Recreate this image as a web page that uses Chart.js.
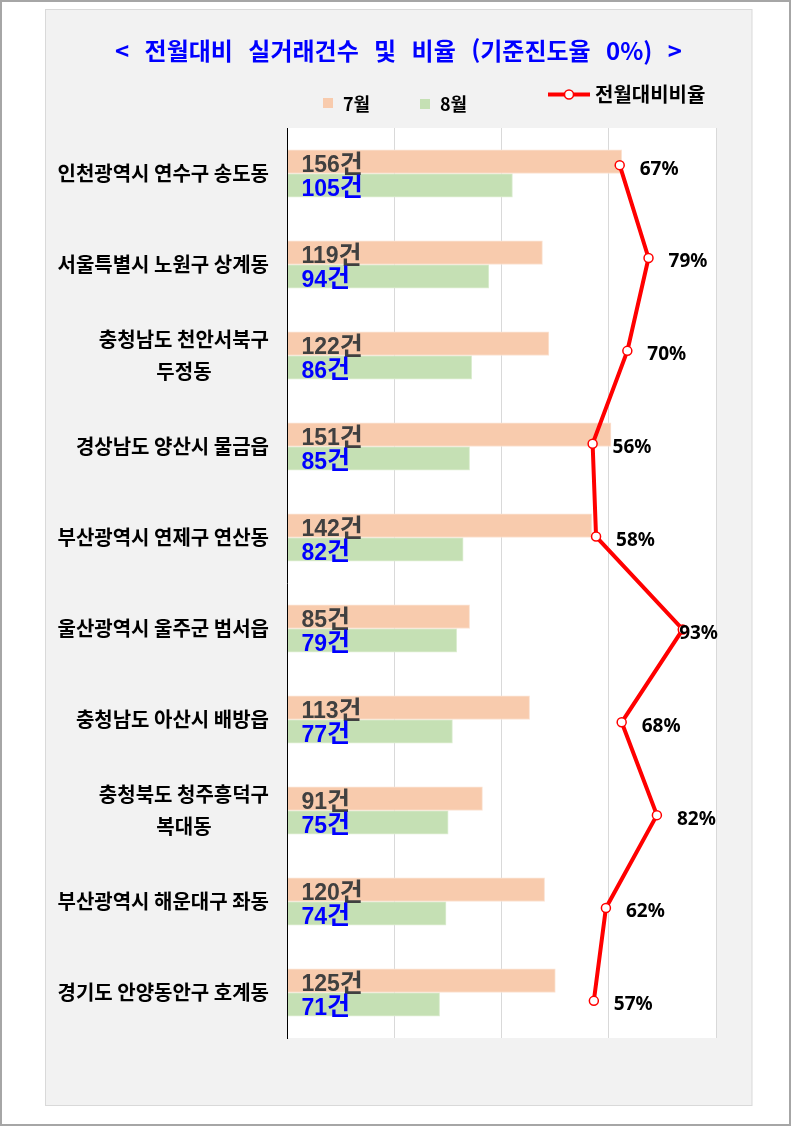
<!DOCTYPE html>
<html lang="ko">
<head>
<meta charset="utf-8">
<title>전월대비 실거래건수 및 비율</title>
<script src="https://cdn.jsdelivr.net/npm/chart.js@4.4.1/dist/chart.umd.min.js"></script>
<style>
  html, body { margin: 0; padding: 0; background: #fff; }
  canvas { display: block; }
</style>
</head>
<body>
<canvas id="chart" width="793" height="1127"></canvas>
<script>
const titleText = '< 전월대비 실거래건수 및 비율 (기준진도율 0%) >';

// categories (multi-line ones are split like the original)
const regions = [
  ['인천광역시 연수구 송도동'],
  ['서울특별시 노원구 상계동'],
  ['충청남도 천안서북구', '두정동'],
  ['경상남도 양산시 물금읍'],
  ['부산광역시 연제구 연산동'],
  ['울산광역시 울주군 범서읍'],
  ['충청남도 아산시 배방읍'],
  ['충청북도 청주흥덕구', '복대동'],
  ['부산광역시 해운대구 좌동'],
  ['경기도 안양동안구 호계동'],
];
const seriesNames = ['7월', '8월', '전월대비비율'];
const julyCounts = [156, 119, 122, 151, 142, 85, 113, 91, 120, 125];
const augCounts = [105, 94, 86, 85, 82, 79, 77, 75, 74, 71];
const ratios = [0.673, 0.790, 0.704, 0.563, 0.577, 0.929, 0.681, 0.824, 0.617, 0.568];
const countTicks = [0, 50, 100, 150, 200];

const KR = '"Noto Sans CJK KR", "Noto Sans", sans-serif';
const NUM = '"Liberation Sans Narrow", "Liberation Sans", sans-serif';

// dataset indexes (line goes first so the bars keep their place in the group)
const LINE = 0, JULY = 1, AUG = 2;

// backgrounds: page frame, grey panel, white plot area
const frame = {
  id: 'frame',
  beforeDraw(chart) {
    const { ctx, chartArea: a, width, height } = chart;
    ctx.save();
    ctx.fillStyle = '#ffffff';
    ctx.fillRect(0, 0, width, height);
    ctx.strokeStyle = '#a6a6a6';
    ctx.lineWidth = 2;
    ctx.strokeRect(1, 1, 789, 1124);
    ctx.fillStyle = '#f2f2f2';
    ctx.fillRect(45, 9.5, 707, 1096.5);
    ctx.strokeStyle = '#d9d9d9';
    ctx.lineWidth = 1;
    ctx.strokeRect(45.5, 9.5, 706.5, 1096);
    ctx.fillStyle = '#ffffff';
    ctx.fillRect(a.left, a.top, a.right - a.left, a.bottom - a.top);
    ctx.restore();
  },
  afterDraw(chart) {
    const { ctx } = chart;
    ctx.save();
    // title
    ctx.font = 'bold 24px ' + KR;
    ctx.fillStyle = '#0000ff';
    ctx.textBaseline = 'middle';
    ctx.textAlign = 'left';
    const spaces = titleText.split(' ').length - 1;
    const w0 = ctx.measureText(titleText).width;
    if ('wordSpacing' in ctx) {
      ctx.wordSpacing = Math.min(16, Math.max(0, (567 - w0) / spaces)) + 'px';
    }
    const w = ctx.measureText(titleText).width;
    ctx.fillText(titleText, 398.5 - w / 2, 51);
    if ('wordSpacing' in ctx) ctx.wordSpacing = '0px';

    // legend
    const ds = chart.data.datasets;
    ctx.fillStyle = ds[JULY].backgroundColor;
    ctx.fillRect(323, 98, 10, 10);
    ctx.fillStyle = ds[AUG].backgroundColor;
    ctx.fillRect(420, 99, 10, 10);
    ctx.fillStyle = '#000';
    ctx.font = 'bold 18px ' + KR;
    ctx.fillText(seriesNames[0], 343, 104);
    ctx.fillText(seriesNames[1], 440, 104.5);
    ctx.strokeStyle = ds[LINE].borderColor;
    ctx.lineWidth = 4;
    ctx.beginPath();
    ctx.moveTo(548, 94.5);
    ctx.lineTo(590, 94.5);
    ctx.stroke();
    ctx.beginPath();
    ctx.arc(569, 94.5, 4.5, 0, Math.PI * 2);
    ctx.fillStyle = '#fff';
    ctx.fill();
    ctx.lineWidth = 1.5;
    ctx.stroke();
    ctx.fillStyle = '#000';
    ctx.font = 'bold 20px ' + KR;
    ctx.fillText(seriesNames[2], 595, 94);

    // category labels: block right-aligned, lines centred in block
    const yScale = chart.scales.y;
    ctx.font = 'bold 20px ' + KR;
    ctx.textAlign = 'center';
    regions.forEach((lines, i) => {
      const cy = yScale.getPixelForTick(i);
      const bw = Math.max(...lines.map(l => ctx.measureText(l).width));
      const cx = 269 - bw / 2;
      lines.forEach((l, j) => {
        ctx.fillText(l, cx, cy + (j - (lines.length - 1) / 2) * 32);
      });
    });
    ctx.restore();
  }
};

// value labels on bars and on the ratio line
const valueLabels = {
  id: 'valueLabels',
  afterDatasetsDraw(chart) {
    const { ctx, chartArea: a } = chart;
    ctx.save();
    ctx.textBaseline = 'alphabetic';
    ctx.textAlign = 'left';
    [JULY, AUG].forEach(d => {
      const color = d === JULY ? '#404040' : '#0000ff';
      const meta = chart.getDatasetMeta(d);
      meta.data.forEach((bar, i) => {
        const base = bar.y + bar.height / 2 - 1.5;
        const num = String(chart.data.datasets[d].data[i]);
        const x = a.left + 14;
        ctx.fillStyle = color;
        ctx.font = 'bold 23px ' + NUM;
        ctx.fillText(num, x, base);
        const nw = ctx.measureText(num).width;
        ctx.font = 'bold 25px ' + KR;
        ctx.fillText('건', x + nw, base + 0.5);
      });
    });
    const meta = chart.getDatasetMeta(LINE);
    ctx.font = 'bold 19px "Noto Sans", sans-serif';
    ctx.textBaseline = 'middle';
    ctx.fillStyle = '#000';
    meta.data.forEach((pt, i) => {
      const txt = Math.round(ratios[i] * 100) + '%';
      const tw = ctx.measureText(txt).width;
      let x = pt.x + 20;
      if (x + tw > a.right + 2) x = a.right + 2 - tw;
      ctx.fillText(txt, x, pt.y + 4);
    });
    ctx.restore();
  }
};

new Chart(document.getElementById('chart'), {
  type: 'bar',
  data: {
    labels: regions,
    datasets: [
      {
        type: 'line',
        label: seriesNames[2],
        data: ratios.map((v, i) => ({ x: v, y: i })),
        xAxisID: 'x2',
        yAxisID: 'y2',
        borderColor: '#ff0000',
        borderWidth: 4,
        pointRadius: 4.5,
        pointBackgroundColor: '#ffffff',
        pointBorderColor: '#ff0000',
        pointBorderWidth: 1.5,
        tension: 0,
        order: 0,
      },
      {
        label: seriesNames[0],
        data: julyCounts,
        backgroundColor: '#f8cbad',
        borderColor: '#fbe3d3',
        borderWidth: 1,
        order: 1,
      },
      {
        label: seriesNames[1],
        data: augCounts,
        backgroundColor: '#c5e0b4',
        borderColor: '#deeed3',
        borderWidth: 1,
        order: 1,
      },
    ],
  },
  options: {
    indexAxis: 'y',
    responsive: false,
    animation: false,
    layout: { padding: { left: 45, top: 128, right: 77, bottom: 89 } },
    datasets: {
      bar: { barThickness: 23.7 },
    },
    scales: {
      x: {
        type: 'linear',
        min: countTicks[0],
        max: countTicks[countTicks.length - 1],
        ticks: { display: false, stepSize: countTicks[1] - countTicks[0] },
        grid: { color: '#d9d9d9', drawTicks: false },
        border: { display: false },
        afterFit(s) { s.height = 0; },
      },
      y: {
        type: 'category',
        ticks: { display: false },
        grid: { display: false, drawTicks: false },
        border: { color: '#000000', width: 1 },
        afterFit(s) { s.width = 242.5; },
      },
      x2: { type: 'linear', display: false, min: -0.676, max: 1.064 },
      y2: {
        type: 'linear', display: false, offset: false,
        grid: { offset: false },
        min: -0.4, max: 9.4, reverse: true,
      },
    },
    plugins: {
      legend: { display: false },
      title: { display: false },
      tooltip: { enabled: false },
    },
  },
  plugins: [frame, valueLabels],
});
</script>
</body>
</html>
